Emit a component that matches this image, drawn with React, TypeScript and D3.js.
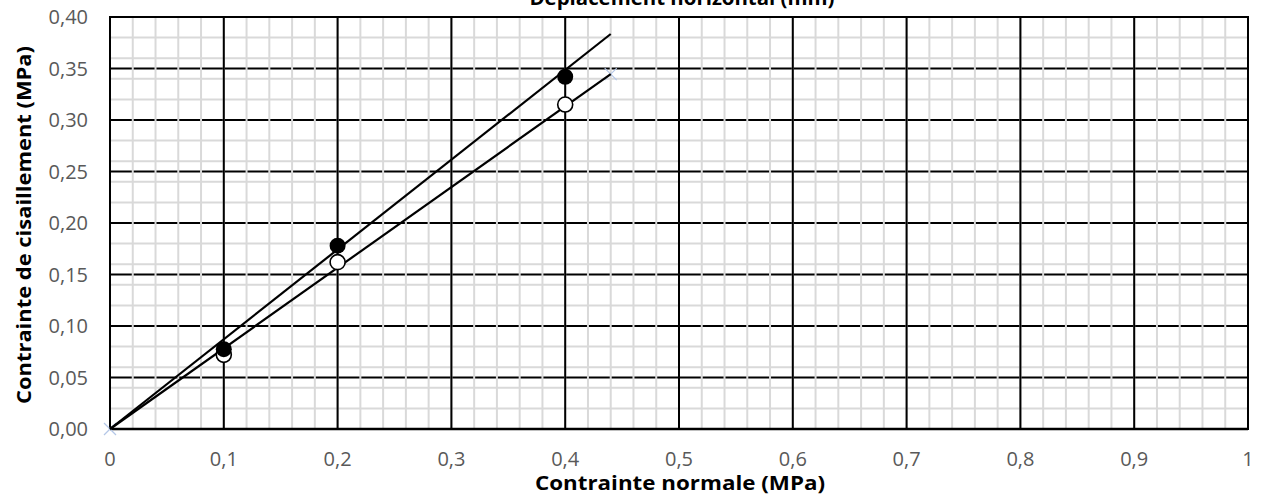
import React from "react";
import * as d3 from "d3";

const filledX = [0.1, 0.2, 0.4];
const filledY = [0.0775, 0.178, 0.342];
const openX = [0.1, 0.2, 0.4];
const openY = [0.072, 0.162, 0.315];
const trendFilled = [[0, 0], [0.44, 0.3835]];
const trendOpen = [[0, 0], [0.44, 0.3445]];
const crossPts = [[0, 0], [0.44, 0.3445]];
const xTicks = [0, 0.1, 0.2, 0.3, 0.4, 0.5, 0.6, 0.7, 0.8, 0.9, 1];
const yTicks = [0, 0.05, 0.1, 0.15, 0.2, 0.25, 0.3, 0.35, 0.4];
const xMinor = d3.range(0, 50).map((i) => i * 0.02);
const yMinor = d3.range(0, 21).map((i) => i * 0.02);

const W = 1263, H = 495;
const L = 110, R = 1248, T = 17, B = 429;
const FONT = "'Open Sans', Lato, sans-serif";

export default function App() {
  const x = d3.scaleLinear().domain([0, 1]).range([L, R]);
  const y = d3.scaleLinear().domain([0, 0.4]).range([B, T]);
  const line = d3.line<number[]>().x((d) => x(d[0])).y((d) => y(d[1]));
  const fmtX = (v: number) => (v === 0 ? "0" : v === 1 ? "1" : d3.format(".1f")(v).replace(".", ","));
  const fmtY = (v: number) => d3.format(".2f")(v).replace(".", ",");
  return (
    <svg width={W} height={H} style={{ position: "absolute", left: 0, top: 0, background: "#fff" }}>
      <rect x={0} y={0} width={W} height={H} fill="#fff" />
      {yMinor.map((v, i) => (
        <line key={"ym" + i} x1={L} x2={R} y1={y(v)} y2={y(v)} stroke="#d9d9d9" strokeWidth={2} />
      ))}
      {yTicks.map((v, i) => (
        <line key={"yM" + i} x1={L} x2={R} y1={y(v)} y2={y(v)} stroke="#000" strokeWidth={2} />
      ))}
      {xMinor.map((v, i) => (
        <line key={"xm" + i} x1={x(v)} x2={x(v)} y1={T} y2={B} stroke="#d9d9d9" strokeWidth={2} />
      ))}
      {xTicks.map((v, i) => (
        <line key={"xM" + i} x1={x(v)} x2={x(v)} y1={T} y2={B} stroke="#000" strokeWidth={2} />
      ))}
      <rect x={L} y={T} width={R - L} height={B - T} fill="none" stroke="#000" strokeWidth={2} />
      <line x1={L} x2={R} y1={B} y2={B} stroke="#000" strokeWidth={2.5} />
      {crossPts.map((p, i) => (
        <g key={"c" + i} stroke="#b4c7e7" strokeWidth={1.2}>
          <line x1={x(p[0]) - 6} x2={x(p[0]) + 6} y1={y(p[1]) - 6} y2={y(p[1]) + 6} />
          <line x1={x(p[0]) - 6} x2={x(p[0]) + 6} y1={y(p[1]) + 6} y2={y(p[1]) - 6} />
        </g>
      ))}
      <path d={line(trendFilled) || ""} stroke="#000" strokeWidth={2.2} fill="none" />
      <path d={line(trendOpen) || ""} stroke="#000" strokeWidth={2.2} fill="none" />
      {openX.map((v, i) => (
        <circle key={"o" + i} cx={x(v)} cy={y(openY[i])} r={7.5} fill="#fff" stroke="#000" strokeWidth={1.6} />
      ))}
      {filledX.map((v, i) => (
        <circle key={"f" + i} cx={x(v)} cy={y(filledY[i])} r={8} fill="#000" />
      ))}
      {yTicks.map((v, i) => (
        <text key={"yl" + i} x={88} y={y(v)} dy="0.36em" textAnchor="end" fontFamily={FONT} fontSize={20} fill="#595959">
          {fmtY(v)}
        </text>
      ))}
      {xTicks.map((v, i) => (
        <text key={"xl" + i} x={x(v)} y={466} textAnchor="middle" fontFamily={FONT} fontSize={20} fill="#595959">
          {fmtX(v)}
        </text>
      ))}
      <text x={680} y={490} textAnchor="middle" fontFamily={FONT} fontSize={20} fontWeight="bold" fill="#000"
        textLength={290} lengthAdjust="spacingAndGlyphs">
        Contrainte normale (MPa)
      </text>
      <text x={682} y={5} textAnchor="middle" fontFamily={FONT} fontSize={20} fontWeight="bold" fill="#000"
        textLength={305} lengthAdjust="spacingAndGlyphs">
        Déplacement horizontal (mm)
      </text>
      <text transform={`translate(31,${225}) rotate(-90)`} textAnchor="middle" fontFamily={FONT} fontSize={20} fontWeight="bold" fill="#000"
        textLength={358} lengthAdjust="spacingAndGlyphs">
        Contrainte de cisaillement (MPa)
      </text>
    </svg>
  );
}
